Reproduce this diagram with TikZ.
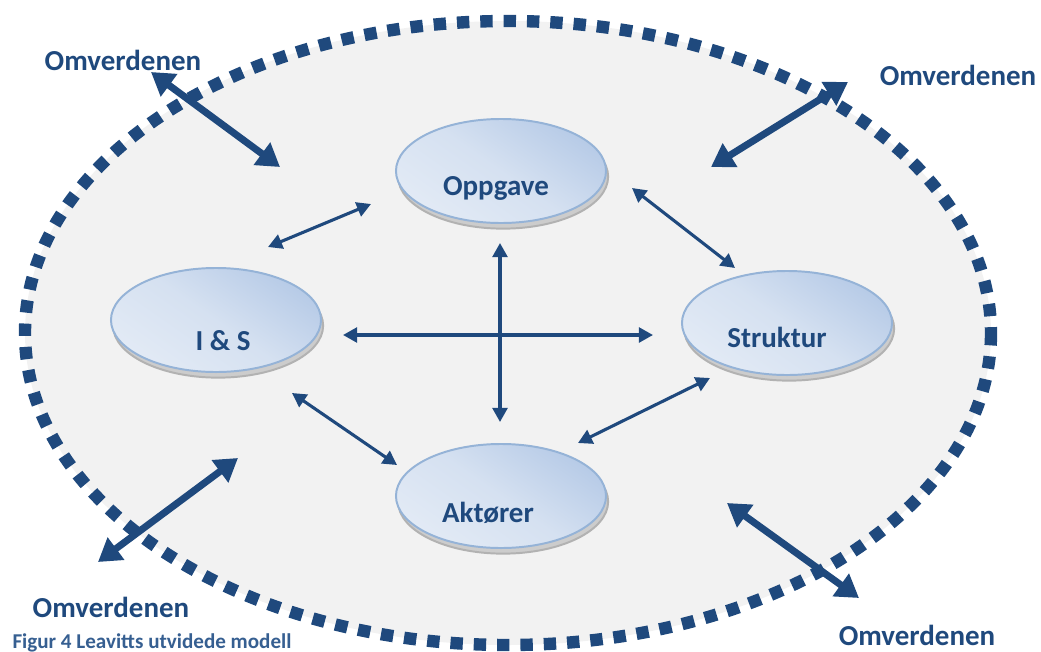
\documentclass[tikz,border=0pt]{standalone}
\usepackage{fontspec}
\setmainfont{Carlito}
\usetikzlibrary{arrows.meta, positioning, shapes.geometric, shadows}

\definecolor{darkblue}{HTML}{1F497D}
\definecolor{capblue}{HTML}{365F91}
\definecolor{blobedge}{HTML}{95B3D7}
\definecolor{blobdark}{HTML}{B7CBE7}
\definecolor{bloblight}{HTML}{E2EAF5}
\definecolor{bggray}{HTML}{F2F2F2}

\tikzset{
  blob/.style={ellipse, draw=blobedge, line width=1.4pt, inner sep=0pt,
    minimum width=5.25cm, minimum height=2.6cm,
    top color=blobdark, bottom color=bloblight, middle color=bloblight!70!blobdark, shading angle=-35,
    general shadow={fill=gray!40, draw=gray!60, shadow xshift=1.5pt, shadow yshift=-4pt}},
  blobtext/.style={anchor=base, font=\fontsize{20.6}{24}\selectfont\bfseries, text=darkblue},
  omv/.style={anchor=base, font=\fontsize{20.6}{24}\selectfont\bfseries, text=darkblue},
  captext/.style={anchor=base, font=\fontsize{15}{18}\selectfont\bfseries, text=capblue},
  linkarrow/.style={darkblue, line width=2.2pt,
    {Triangle[length=10pt,width=10.5pt]}-{Triangle[length=10pt,width=10.5pt]}},
  envarrow/.style={darkblue, line width=5pt,
    {Triangle[length=16pt,width=19pt]}-{Triangle[length=16pt,width=19pt]}},
}

\begin{document}
\begin{tikzpicture}[x=0.025cm, y=-0.025cm]
        \useasboundingbox (0,0) rectangle (1041,652);
        % Outer boundary (the organisation)
        \def\rx{483}
        \def\ry{312}
        \fill[bggray] (508,333) ellipse [x radius=\rx, y radius=\ry];
        \draw[darkblue, line width=8.8pt, dash pattern=on 8.8pt off 7.8pt] (508,333) ellipse [x radius=\rx, y radius=\ry];

        % The four components
        \node[blob] (opp) at (501,171) {};
        \node[blob] (ios) at (216,320) {};
        \node[blob] (str) at (787,323) {};
        \node[blob] (akt) at (501,496) {};
        \node[blobtext] (opptxt) at (496,195) {Oppgave};
        \node[blobtext] (iostxt) at (223,350) {I \& S};
        \node[blobtext] (strtxt) at (777,347) {Struktur};
        \node[blobtext] (akttxt) at (488,522) {Aktører};

        % Arrow ends between the components
        \coordinate (a1) at (268,247);  \coordinate (b1) at (371,204);
        \coordinate (a2) at (632,188);  \coordinate (b2) at (735,268);
        \coordinate (a3) at (343,335);  \coordinate (b3) at (653,335);
        \coordinate (a4) at (500,243);  \coordinate (b4) at (500,422);
        \coordinate (a5) at (292,393);  \coordinate (b5) at (397,465);
        \coordinate (a6) at (578,443);  \coordinate (b6) at (710,378);
        \foreach \i in {1,...,6}
            \draw[linkarrow] (a\i) -- (b\i);

        % Environment labels and arrows
        \node[omv] (omvTL) at (123,70) {Omverdenen};
        \node[omv] (omvTR) at (958,85) {Omverdenen};
        \node[omv] (omvBL) at (111,617) {Omverdenen};
        \node[omv] (omvBR) at (917,645) {Omverdenen};
        \coordinate (eTLa) at (151,72);   \coordinate (eTLb) at (280,167);
        \coordinate (eTRa) at (848,82);   \coordinate (eTRb) at (711,167);
        \coordinate (eBLa) at (98,562);   \coordinate (eBLb) at (238,458);
        \coordinate (eBRa) at (727,503);  \coordinate (eBRb) at (859,598);
        \foreach \e in {TL,TR,BL,BR}
            \draw[envarrow] (e\e a) -- (e\e b);

        % Caption
        \node[captext] (cap) at (152,648) {Figur 4 Leavitts utvidede modell};
    \end{tikzpicture}
\end{document}
